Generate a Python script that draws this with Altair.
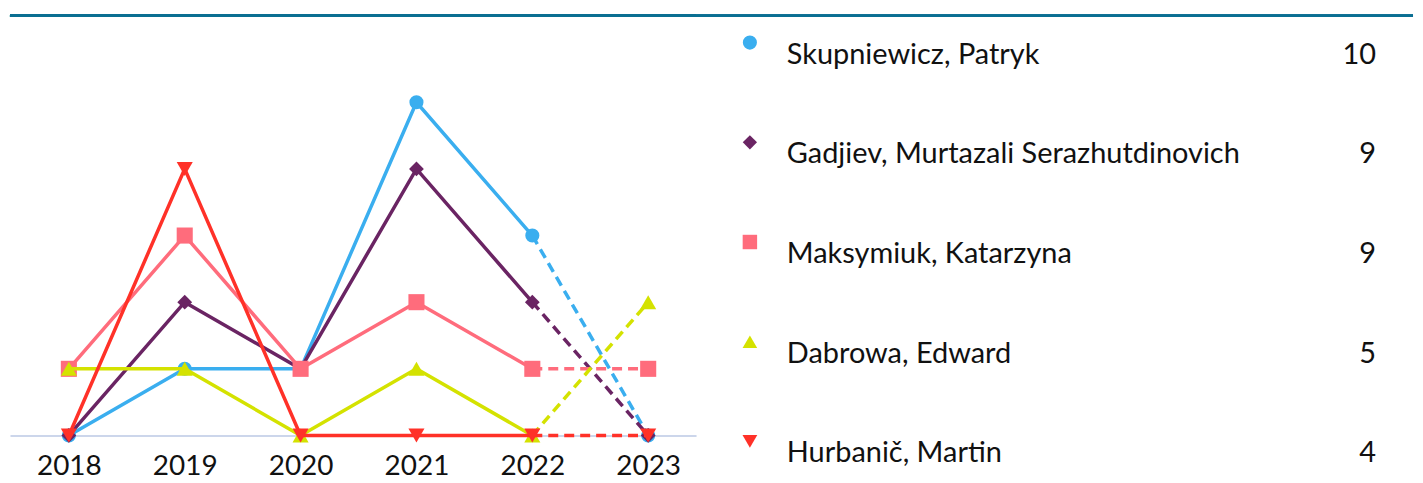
import altair as alt
import pandas as pd

years = [2018, 2019, 2020, 2021, 2022, 2023]
names = [
    "Skupniewicz, Patryk",
    "Gadjiev, Murtazali Serazhutdinovich",
    "Maksymiuk, Katarzyna",
    "Dabrowa, Edward",
    "Hurbanič, Martin",
]
skupniewicz = [0, 1, 1, 5, 3, 0]
gadjiev = [0, 2, 1, 4, 2, 0]
maksymiuk = [1, 3, 1, 2, 1, 1]
dabrowa = [1, 1, 0, 1, 0, 2]
hurbanic = [0, 4, 0, 0, 0, 0]
series_values = [skupniewicz, gadjiev, maksymiuk, dabrowa, hurbanic]

colors = ["#3aaeef", "#6a2463", "#ff6c7c", "#d4e200", "#ff3128"]
shapes = ["circle", "diamond", "square", "triangle-up", "triangle-down"]
msizes = [200, 220, 260, 260, 260]

FONT = "Lato"
LEFT_W, H = 688, 421
RIGHT_W = 719

rows = []
for n, vals in zip(names, series_values):
    for y, v in zip(years, vals):
        rows.append({"series": n, "year": y, "value": v})
df = pd.DataFrame(rows)

leg = pd.DataFrame({"series": names, "total": [sum(v) for v in series_values]})

xenc = alt.X(
    "year:Q",
    scale=alt.Scale(domain=[2017.492, 2023.413], nice=False, zero=False),
    axis=alt.Axis(
        values=years, format="d", title=None, grid=False, ticks=False,
        domainColor="#ccd6eb", domainWidth=2, labelFontSize=28,
        labelFont=FONT, labelColor="#111111", labelPadding=17,
        labelFlush=False,
    ),
)
yenc = alt.Y("value:Q", scale=alt.Scale(domain=[0, 6.3], nice=False), axis=None)

base = alt.Chart(df)
top_rule = alt.Chart(df).mark_rule(color="#0a6f92", strokeWidth=2.5).encode(
    x=alt.value(0), x2=alt.value(LEFT_W), y=alt.value(0)
)

layers = [top_rule]
for n, c, s, sz in zip(names, colors, shapes, msizes):
    b = base.transform_filter(alt.datum.series == n)
    solid = b.transform_filter(alt.datum.year <= 2022).mark_line(
        color=c, strokeWidth=3.5
    ).encode(x=xenc, y=yenc)
    dashed = b.transform_filter(alt.datum.year >= 2022).mark_line(
        color=c, strokeWidth=3.5, strokeDash=[10, 6]
    ).encode(x=xenc, y=yenc)
    pts = b.mark_point(
        shape=s, filled=True, opacity=1, color=c, size=sz
    ).encode(x=xenc, y=yenc)
    layers += [solid, dashed, pts]

left = alt.layer(*layers).properties(width=LEFT_W, height=H)

yleg = alt.Y(
    "series:N", sort=names, axis=None,
    scale=alt.Scale(domain=names, range=[39, 439], padding=0),
)
lbase = alt.Chart(leg)
lrule = lbase.mark_rule(color="#0a6f92", strokeWidth=2.5).encode(
    x=alt.value(0), x2=alt.value(RIGHT_W), y=alt.value(0)
)
lmarks = lbase.mark_point(filled=True, opacity=1).encode(
    x=alt.value(54),
    y=yleg,
    yOffset=alt.value(-12),
    shape=alt.Shape("series:N", scale=alt.Scale(domain=names, range=shapes), legend=None),
    color=alt.Color("series:N", scale=alt.Scale(domain=names, range=colors), legend=None),
    size=alt.Size("series:N", scale=alt.Scale(domain=names, range=msizes), legend=None),
)
lnames = lbase.mark_text(
    align="left", baseline="middle", font=FONT, fontSize=29, color="#111111"
).encode(x=alt.value(91), y=yleg, text="series:N")
ltot = lbase.mark_text(
    align="right", baseline="middle", font=FONT, fontSize=29, color="#111111"
).encode(x=alt.value(682), y=yleg, text="total:Q")

right = alt.layer(lrule, lmarks, lnames, ltot).properties(width=RIGHT_W, height=H)

chart = alt.hconcat(left, right, spacing=0, bounds="flush").properties(
    padding={"left": 0, "top": 5, "right": 0, "bottom": 0}
).configure_view(stroke=None)

chart.save("out.html", embed_options={"renderer": "svg", "actions": False})
